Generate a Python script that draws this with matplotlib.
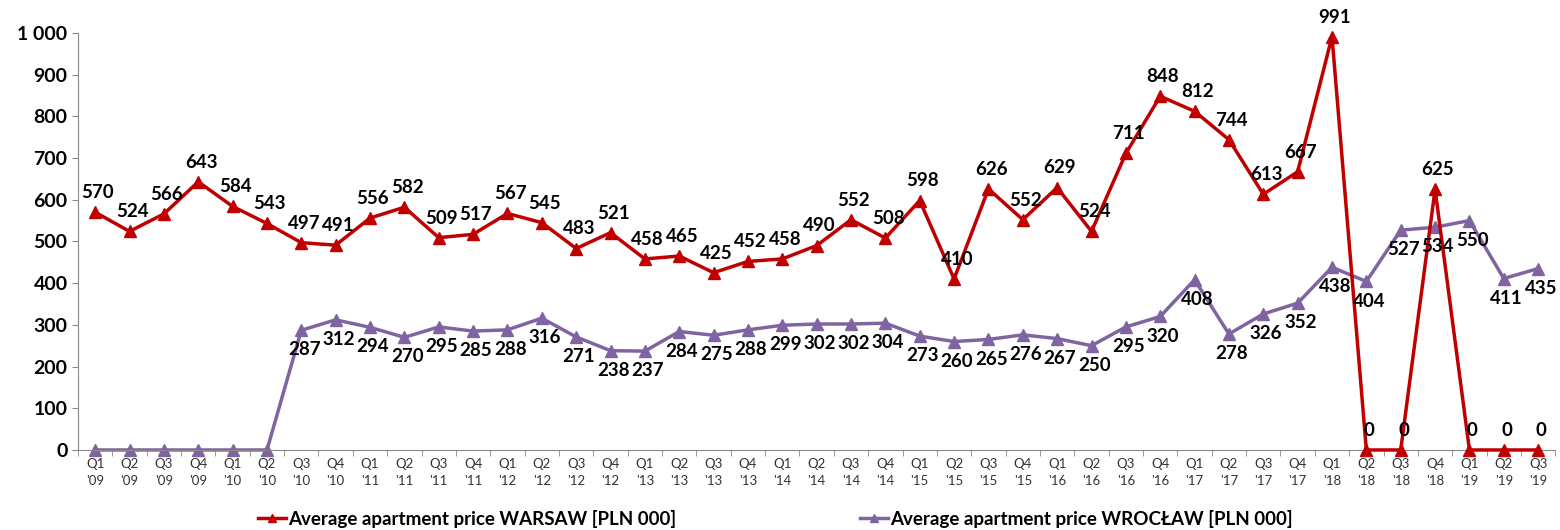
import matplotlib.pyplot as plt
from matplotlib.ticker import FuncFormatter

plt.rcParams['font.family'] = ['Lato', 'DejaVu Sans']

quarters = []
for y in range(9, 20):
    for q in range(1, 5):
        quarters.append('Q%d\n\'%02d' % (q, y))
quarters = quarters[:43]

warsaw = [570, 524, 566, 643, 584, 543, 497, 491, 556, 582, 509, 517,
          567, 545, 483, 521, 458, 465, 425, 452, 458, 490, 552, 508,
          598, 410, 626, 552, 629, 524, 711, 848, 812, 744, 613, 667,
          991, 0, 0, 625, 0, 0, 0]
wroclaw = [0, 0, 0, 0, 0, 0, 287, 312, 294, 270, 295, 285,
           288, 316, 271, 238, 237, 284, 275, 288, 299, 302, 302, 304,
           273, 260, 265, 276, 267, 250, 295, 320, 408, 278, 326, 352,
           438, 404, 527, 534, 550, 411, 435]

red = '#C00000'
purple = '#8064A2'

fig = plt.figure(figsize=(15.6, 5.3), dpi=100)
ax = fig.add_axes([0.05, 0.151, 0.947, 0.787])

x = list(range(len(quarters)))
ax.plot(x, warsaw, color=red, lw=2.5, marker='^', ms=8, clip_on=False,
        label='Average apartment price WARSAW [PLN 000]', zorder=3)
ax.plot(x, wroclaw, color=purple, lw=2.5, marker='^', ms=8, clip_on=False,
        label='Average apartment price WROCŁAW [PLN 000]', zorder=2)

for i, v in enumerate(warsaw):
    ax.annotate(str(v), (i, v), xytext=(2, 8), textcoords='offset points',
                ha='center', va='bottom', fontsize=13.5, fontweight='bold')
for i, v in enumerate(wroclaw):
    if v == 0:
        continue
    ax.annotate(str(v), (i, v), xytext=(2, -8), textcoords='offset points',
                ha='center', va='top', fontsize=13.5, fontweight='bold')

ax.set_xlim(-0.5, len(quarters) - 0.5)
ax.set_ylim(0, 1000)
ax.set_yticks(range(0, 1001, 100))
ax.yaxis.set_major_formatter(FuncFormatter(lambda v, p: '{:,}'.format(int(v)).replace(',', ' ')))
ax.set_xticks(x)
ax.set_xticklabels(quarters, fontsize=9.5, color='#333333', linespacing=1.5)
ax.set_xticks([i + 0.5 for i in range(-1, len(quarters))], minor=True)
ax.tick_params(axis='x', which='major', length=0, pad=6)
ax.tick_params(axis='x', which='minor', length=4, color='#888888')
ax.tick_params(axis='y', labelsize=14, length=4, color='#888888')
for lab in ax.get_yticklabels():
    lab.set_fontweight('bold')
for s in ['top', 'right']:
    ax.spines[s].set_visible(False)
ax.spines['left'].set_color('#888888')
ax.spines['bottom'].set_color('#888888')

ax.legend(loc='center', bbox_to_anchor=(0.472, -0.165), ncol=2, frameon=False,
          prop={'size': 13.5, 'weight': 'bold'}, columnspacing=9.8, handlelength=1.5,
          handletextpad=0.1, markerscale=0.8)

fig.savefig('out.png', dpi=100)
